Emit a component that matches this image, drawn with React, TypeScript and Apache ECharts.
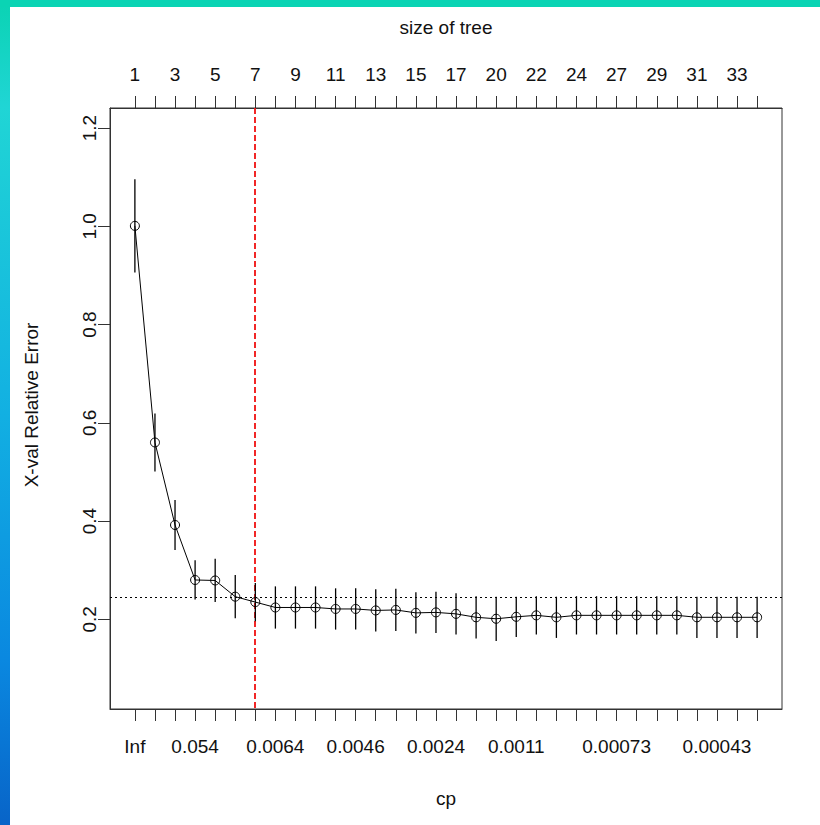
import React, { useEffect, useRef } from "react";
import * as echarts from "echarts";

// size of tree for each cp step (top axis)
const treeSizes = [1, 2, 3, 4, 5, 6, 7, 8, 9, 10, 11, 12, 13, 14, 15, 16, 17, 19, 20, 21, 22, 23, 24, 26, 27, 28, 29, 30, 31, 32, 33, 35];
// cp labels on the bottom axis ('' = label not printed)
const cpLabels = ["Inf", "", "", "0.054", "", "", "", "0.0064", "", "", "", "0.0046", "", "", "", "0.0024", "", "", "", "0.0011", "", "", "", "", "0.00073", "", "", "", "", "0.00043", "", ""];
// cross-validated relative error
const xerror = [1.001, 0.560, 0.392, 0.280, 0.279, 0.246, 0.235, 0.224, 0.224, 0.224, 0.221, 0.221, 0.218, 0.219, 0.213, 0.214, 0.211, 0.204, 0.201, 0.205, 0.208, 0.204, 0.208, 0.208, 0.208, 0.208, 0.208, 0.208, 0.204, 0.204, 0.204, 0.204];
// standard error of xerror
const xstd = [0.095, 0.059, 0.051, 0.040, 0.044, 0.044, 0.039, 0.043, 0.043, 0.043, 0.042, 0.042, 0.043, 0.043, 0.042, 0.042, 0.042, 0.043, 0.045, 0.041, 0.039, 0.042, 0.039, 0.039, 0.039, 0.039, 0.039, 0.039, 0.042, 0.042, 0.042, 0.042];
const yTicks = [0.2, 0.4, 0.6, 0.8, 1.0, 1.2];
const thresholdValue = 0.246;
const selectedIndex = 6;

const FONT = "'Liberation Sans', Arial, sans-serif";
const TXT = "#111";
const AX = "#333";

export default function App() {
  const ref = useRef<HTMLDivElement>(null);
  useEffect(() => {
    document.body.style.margin = "0";
    const chart = echarts.init(ref.current!, null, { renderer: "svg" });
    const idx = xerror.map((_, i) => i);
    const topLabelIdx = idx.filter((i) => i % 2 === 0);
    const bottomLabelIdx = idx.filter((i) => cpLabels[i] !== "");
    const xCommon = {
      type: "value",
      min: -1.24,
      max: 32.24,
      splitLine: { show: false },
      axisLine: { show: true, onZero: false, lineStyle: { color: AX, width: 1 } },
    };
    chart.setOption({
      animation: false,
      backgroundColor: "#fff",
      grid: {
        left: 110,
        top: 108,
        width: 672,
        height: 601,
        show: true,
        borderColor: AX,
        borderWidth: 1,
        backgroundColor: "transparent",
      },
      xAxis: [
        {
          ...xCommon,
          position: "bottom",
          axisTick: { show: true, length: 12, customValues: idx, lineStyle: { color: AX } },
          axisLabel: {
            customValues: bottomLabelIdx,
            formatter: (v: number) => cpLabels[Math.round(v)],
            fontSize: 19,
            fontFamily: FONT,
            color: TXT,
            margin: 28,
          },
        },
        {
          ...xCommon,
          position: "top",
          axisTick: { show: true, length: 12, customValues: idx, lineStyle: { color: AX } },
          axisLabel: {
            customValues: topLabelIdx,
            formatter: (v: number) => String(treeSizes[Math.round(v)]),
            fontSize: 19,
            fontFamily: FONT,
            color: TXT,
            margin: 24,
          },
        },
      ],
      yAxis: {
        type: "value",
        min: 0.0173,
        max: 1.241,
        splitLine: { show: false },
        axisLine: { show: true, onZero: false, lineStyle: { color: AX } },
        axisTick: { show: true, length: 12, customValues: yTicks, lineStyle: { color: AX } },
        axisLabel: {
          customValues: yTicks,
          rotate: 90,
          formatter: (v: number) => v.toFixed(1),
          fontSize: 19,
          fontFamily: FONT,
          color: TXT,
          margin: 11,
        },
      },
      series: [
        {
          // horizontal dotted threshold line (min xerror + 1 SE)
          type: "custom",
          xAxisIndex: 0,
          data: [[selectedIndex, thresholdValue]],
          silent: true,
          z: 1,
          renderItem: (params: any, api: any) => {
            const cs = params.coordSys;
            const p = api.coord([api.value(0), api.value(1)]);
            const y = Math.round(p[1]) + 0.5;
            return {
              type: "line",
              shape: { x1: cs.x, y1: y, x2: cs.x + cs.width, y2: y },
              style: { stroke: "#000", lineWidth: 1, lineDash: [2, 3] },
            };
          },
        },
        {
          // vertical red dashed line at the selected tree
          type: "custom",
          xAxisIndex: 0,
          data: [[selectedIndex, thresholdValue]],
          silent: true,
          z: 1,
          renderItem: (params: any, api: any) => {
            const cs = params.coordSys;
            const p = api.coord([api.value(0), api.value(1)]);
            const x = Math.round(p[0]);
            return {
              type: "line",
              shape: { x1: x, y1: cs.y, x2: x, y2: cs.y + cs.height },
              style: { stroke: "#f01010", lineWidth: 1.8, lineDash: [6, 3] },
            };
          },
        },
        {
          type: "custom",
          xAxisIndex: 0,
          encode: { x: 0, y: [1, 2] },
          data: xerror.map((v, i) => [i, v - xstd[i], v + xstd[i]]),
          renderItem: (params: any, api: any) => {
            const p1 = api.coord([api.value(0), api.value(1)]);
            const p2 = api.coord([api.value(0), api.value(2)]);
            return {
              type: "line",
              shape: { x1: p1[0], y1: p1[1], x2: p2[0], y2: p2[1] },
              style: { stroke: "#000", lineWidth: 1.3 },
            };
          },
          silent: true,
          z: 2,
        },
        {
          type: "line",
          xAxisIndex: 0,
          data: xerror.map((v, i) => [i, v]),
          symbol: "circle",
          symbolSize: 9,
          itemStyle: { color: "transparent", borderColor: "#000", borderWidth: 1 },
          lineStyle: { color: "#000", width: 1 },
          silent: true,
          z: 3,
        },
      ],
      graphic: [
        {
          type: "rect",
          shape: { x: 0, y: 0, width: 10, height: 825 },
          style: {
            fill: new echarts.graphic.LinearGradient(0, 0, 0, 1, [
              { offset: 0, color: "#0ad3b3" },
              { offset: 0.13, color: "#20d5d5" },
              { offset: 0.5, color: "#12b0e2" },
              { offset: 0.8, color: "#0a88e0" },
              { offset: 1, color: "#0864c8" },
            ]),
          },
          silent: true,
        },
        {
          type: "rect",
          shape: { x: 0, y: 0, width: 820, height: 7 },
          style: { fill: "#0ad4b4" },
          silent: true,
        },
        {
          type: "text",
          x: 446,
          y: 27,
          style: { text: "size of tree", fontSize: 19, fontFamily: FONT, fill: TXT, textAlign: "center", textVerticalAlign: "middle" },
        },
        {
          type: "text",
          x: 446,
          y: 798,
          style: { text: "cp", fontSize: 19, fontFamily: FONT, fill: TXT, textAlign: "center", textVerticalAlign: "middle" },
        },
        {
          type: "text",
          x: 31,
          y: 405,
          rotation: Math.PI / 2,
          style: { text: "X-val Relative Error", fontSize: 19, fontFamily: FONT, fill: TXT, textAlign: "center", textVerticalAlign: "middle" },
        },
      ],
    });
    return () => chart.dispose();
  }, []);
  return <div ref={ref} style={{ width: 820, height: 825 }} />;
}
